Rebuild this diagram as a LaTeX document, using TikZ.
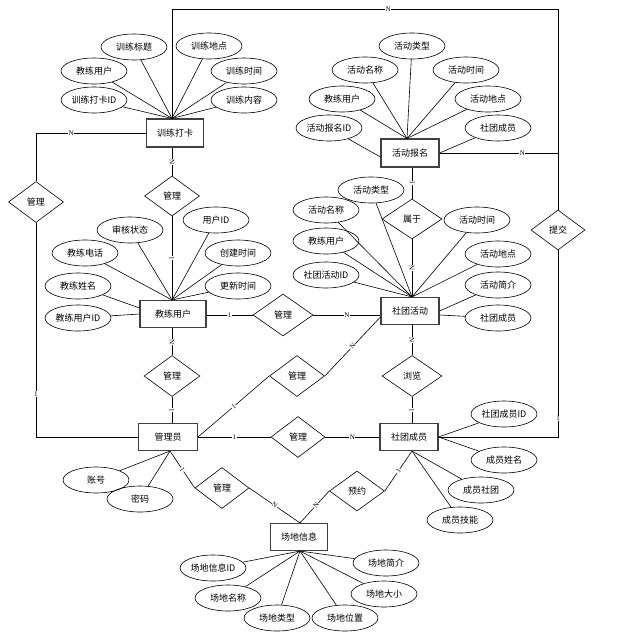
\documentclass[tikz,border=0pt]{standalone}
\usepackage{fontspec}
\newfontfamily\cjk{Noto Sans CJK SC}
\newfontfamily\labfont{Liberation Serif}
\usetikzlibrary{shapes.geometric}
\begin{document}
\begin{tikzpicture}[x=1pt,y=-1pt,
  every node/.style={font=\cjk\fontsize{9}{10}\selectfont},
  ent/.style={draw=black!75, line width=1.1pt, rectangle, minimum width=58, minimum height=27, inner sep=0},
  attr/.style={draw, ellipse, line width=0.6pt, minimum width=66, minimum height=26, inner sep=0},
  rel/.style={draw, diamond, line width=0.6pt, minimum width=55, minimum height=41, inner sep=0},
  lab/.style={font=\labfont\fontsize{7}{7}\selectfont, fill=white, inner sep=0.5pt},
  ln/.style={line width=0.6pt}]
\useasboundingbox (0,0) rectangle (616,640);

% entities
\node[ent, minimum width=57, minimum height=28] (xl) at (175,133) {训练打卡};
\node[ent, minimum height=28] (bm) at (410,153) {活动报名};
\node[ent, minimum width=66] (jl) at (173,314) {教练用户};
\node[ent] (hd) at (410,311) {社团活动};
\node[ent, minimum width=59] (gly) at (168,437) {管理员};
\node[ent] (cy) at (409,437) {社团成员};
\node[ent, minimum width=57] (cd) at (299,537) {场地信息};

% relationships
\node[rel] (r1) at (36,202) {管理};
\node[rel, minimum height=40] (r2) at (172,196) {管理};
\node[rel, minimum width=60, minimum height=40] (r3) at (412,219) {属于};
\node[rel, minimum width=54, minimum height=40] (r4) at (558,230) {提交};
\node[rel, minimum width=60, minimum height=42] (r5) at (283,315) {管理};
\node[rel, minimum width=56] (r6) at (172,376) {管理};
\node[rel] (r7) at (297,376) {管理};
\node[rel, minimum width=60] (r8) at (412,376) {浏览};
\node[rel, minimum width=54] (r9) at (298,437) {管理};
\node[rel, minimum width=54] (r10) at (222,488) {管理};
\node[rel, minimum height=40] (r11) at (357,491) {预约};

% attributes of 训练打卡
\node[attr] (t1) at (134,47) {训练标题};
\node[attr] (t2) at (209,46) {训练地点};
\node[attr] (t3) at (94,71) {教练用户};
\node[attr] (t4) at (244,71) {训练时间};
\node[attr] (t5) at (94,100) {训练打卡ID};
\node[attr] (t6) at (244,100) {训练内容};
% attributes of 活动报名
\node[attr] (b1) at (412,46) {活动类型};
\node[attr] (b2) at (365,70) {活动名称};
\node[attr] (b3) at (466,70) {活动时间};
\node[attr] (b4) at (342,99) {教练用户};
\node[attr] (b5) at (488,99) {活动地点};
\node[attr] (b6) at (329,128) {活动报名ID};
\node[attr] (b7) at (498,128) {社团成员};
% attributes of 社团活动
\node[attr] (h1) at (371,190) {活动类型};
\node[attr] (h2) at (326,210) {活动名称};
\node[attr] (h3) at (477,220) {活动时间};
\node[attr] (h4) at (326,241) {教练用户};
\node[attr] (h5) at (498,254) {活动地点};
\node[attr] (h6) at (326,275) {社团活动ID};
\node[attr] (h7) at (498,285) {活动简介};
\node[attr] (h8) at (498,318) {社团成员};
% attributes of 教练用户
\node[attr] (j1) at (130,230) {审核状态};
\node[attr] (j2) at (216,220) {用户ID};
\node[attr] (j3) at (85,253) {教练电话};
\node[attr] (j4) at (238,253) {创建时间};
\node[attr] (j5) at (78,286) {教练姓名};
\node[attr] (j6) at (238,286) {更新时间};
\node[attr] (j7) at (78,318) {教练用户ID};
% attributes of 管理员
\node[attr] (g1) at (96,480) {账号};
\node[attr] (g2) at (140,499) {密码};
% attributes of 社团成员
\node[attr] (c1) at (504,414) {社团成员ID};
\node[attr] (c2) at (504,460) {成员姓名};
\node[attr] (c3) at (481,490) {成员社团};
\node[attr] (c4) at (460,520) {成员技能};
% attributes of 场地信息
\node[attr] (d1) at (213,568) {场地信息ID};
\node[attr] (d2) at (386,563) {场地简介};
\node[attr] (d3) at (228,598) {场地名称};
\node[attr] (d4) at (384,594) {场地大小};
\node[attr] (d5) at (277,618) {场地类型};
\node[attr] (d6) at (345,618) {场地位置};

% attribute lines
\foreach \a in {t1,t2,t3,t4,t5,t6} \draw[ln] (\a) -- (r2 |- xl.north);
\foreach \a in {b1,b2,b3,b4,b5} \draw[ln] (\a) -- ([xshift=-3pt]bm.north);
\draw[ln] (b6) -- ([yshift=-4pt]bm.west);
\draw[ln] (b7) -- (bm.east);
\foreach \a in {h1,h2,h3,h4,h5,h6} \draw[ln] (\a) -- (r3 |- hd.north);
\draw[ln] (h7) -- (hd.east);
\draw[ln] (h8) -- ([yshift=-4pt]hd.east);
\foreach \a in {j1,j2,j3,j4,j6} \draw[ln] (\a) -- (r2 |- jl.north);
\draw[ln] (j5) -- ([yshift=6pt]jl.west);
\draw[ln] (j7) -- (jl.west);
\foreach \a in {g1,g2} \draw[ln] (\a) -- ([xshift=2pt]gly.south);
\foreach \a in {c1,c2} \draw[ln] (\a) -- (cy.east);
\foreach \a in {c3,c4} \draw[ln] (\a) -- (r8 |- cy.south);
\foreach \a in {d1,d2,d3,d4,d5,d6} \draw[ln] (\a) -- ([xshift=1pt]cd.south);

% relationship connectors
\coordinate (tl) at (172,9);
\draw[ln] (xl.west) -- node[lab,pos=0.68] (n1) {N} (xl.west -| r1) -- (r1.north);
\draw[ln] (r1.south) -- node[lab,pos=0.8] (n2) {1} (r1 |- gly.west) -- (gly.west);
\draw[ln] (r2 |- xl.south) -- node[lab,sloped] (n3) {N} (r2.north);
\draw[ln] (r2.south) -- node[lab,sloped] (n4) {1} (r2 |- jl.north);
\draw[ln] (jl.east |- r5.west) -- node[lab] (n5) {1} (r5.west);
\draw[ln] (r5.east) -- node[lab] (n6) {N} (hd.west |- r5.east);
\draw[ln] (r6 |- jl.south) -- node[lab,sloped] (n7) {N} (r6.north);
\draw[ln] (r6.south) -- node[lab,sloped] (n8) {1} (r6 |- gly.north);
\draw[ln] (gly.east) -- node[lab] (n9) {1} (r9.west);
\draw[ln] (r9.east) -- node[lab] (n10) {N} (cy.west);
\draw[ln] (gly.east) -- node[lab,sloped] (n11) {1} (r7.west);
\draw[ln] (r7.east) -- node[lab,sloped] (n12) {N} ([yshift=-6pt]hd.west);
\draw[ln] (r8 |- hd.south) -- node[lab,sloped] (n13) {N} (r8.north);
\draw[ln] (r8.south) -- node[lab,sloped] (n14) {1} (r8 |- cy.north);
\draw[ln] (r3 |- hd.north) -- node[lab,sloped] (n15) {N} (r3.south);
\draw[ln] (r3.north) -- node[lab,sloped] (n16) {1} (r3 |- bm.south);
\draw[ln] (bm.east) -- node[lab,pos=0.7] (n17) {N} (bm.east -| r4);
\draw[ln] (r2 |- xl.north) -- (tl) -- node[lab,pos=0.56] (n18) {N} (tl -| r4) -- (r4.north);
\draw[ln] (r4.south) -- node[lab,pos=0.9] (n19) {1} (r4 |- cy.east) -- (cy.east);
\draw[ln] ([xshift=2pt]gly.south) -- node[lab,sloped] (n20) {1} (r10.west);
\draw[ln] (r10.east) -- node[lab,sloped] (n21) {N} ([xshift=1pt]cd.north);
\draw[ln] ([xshift=1pt]cd.north) -- node[lab,sloped,pos=0.55] (n22) {N} (r11.west);
\draw[ln] (r11.east) -- node[lab,sloped] (n23) {1} (r8 |- cy.south);
\end{tikzpicture}
\end{document}
